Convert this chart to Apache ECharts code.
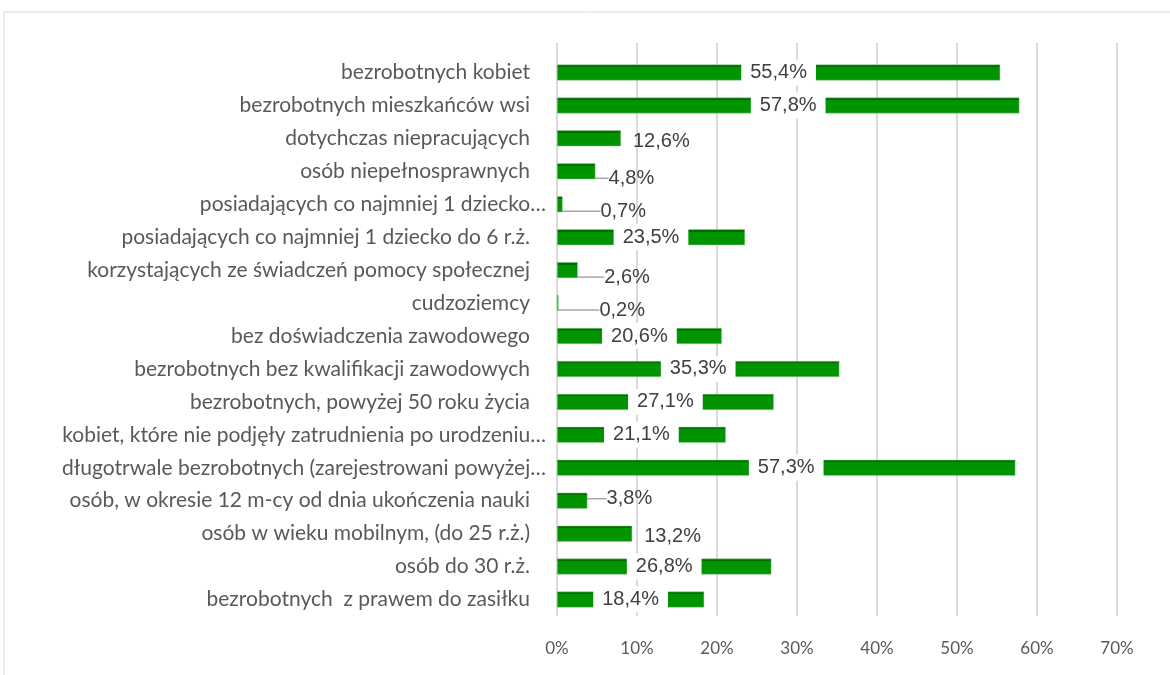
<!DOCTYPE html>
<html>
<head>
<meta charset="utf-8">
<script src="https://cdn.jsdelivr.net/npm/echarts@6/dist/echarts.min.js"></script>
<style>
  html, body { margin: 0; padding: 0; background: #fff; }
  #chart { width: 1170px; height: 675px; }
</style>
</head>
<body>
<div id="chart"></div>
<script>
// Categories, top to bottom
const categories = [
  'bezrobotnych kobiet',
  'bezrobotnych mieszkańców wsi ',
  'dotychczas niepracujących ',
  'osób niepełnosprawnych',
  'posiadających co najmniej 1 dziecko…',
  'posiadających co najmniej 1 dziecko do 6 r.ż.',
  'korzystających ze świadczeń pomocy społecznej',
  'cudzoziemcy',
  'bez doświadczenia zawodowego',
  'bezrobotnych bez kwalifikacji zawodowych ',
  'bezrobotnych, powyżej 50 roku życia',
  'kobiet, które nie podjęły zatrudnienia po urodzeniu…',
  'długotrwale bezrobotnych (zarejestrowani powyżej…',
  'osób, w okresie 12 m-cy od dnia ukończenia nauki',
  'osób w wieku mobilnym, (do 25 r.ż.)',
  'osób do 30 r.ż.',
  'bezrobotnych  z prawem do zasiłku'
];

// Bar lengths as drawn in the picture (percent)
const barLengths = [55.4, 57.8, 8.0, 4.8, 0.7, 23.5, 2.6, 0.2, 20.6, 35.3, 27.1, 21.1, 57.3, 3.8, 9.4, 26.8, 18.4];

// Values printed on the bars (percent)
const printedValues = [55.4, 57.8, 12.6, 4.8, 0.7, 23.5, 2.6, 0.2, 20.6, 35.3, 27.1, 21.1, 57.3, 3.8, 13.2, 26.8, 18.4];

const axisMax = 70;
const axisStep = 10;

const chart = echarts.init(document.getElementById('chart'));

const fmtPct = v => v.toFixed(1).replace('.', ',') + '%';

const barData = barLengths.map(v => {
  const wide = v >= 15;
  return {
    value: v,
    label: wide
      ? { position: 'inside', backgroundColor: '#fff', padding: [3, 9] }
      : { position: 'right', distance: 12 },
    labelLine: { show: v < 5 }
  };
});

const option = {
  animation: false,
  textStyle: { fontFamily: 'Lato' },
  graphic: [{
    type: 'rect',
    shape: { x: 4, y: 12, width: 1300, height: 800 },
    style: { fill: 'none', stroke: '#d9d9d9', lineWidth: 1 },
    silent: true
  }],
  grid: [
    { left: 557, right: 53, top: 56, height: 560 },
    { left: 557, right: 53, top: 43, height: 573 }
  ],
  xAxis: [
    {
      gridIndex: 0, type: 'value', min: 0, max: axisMax, interval: axisStep,
      axisLine: { show: false }, axisTick: { show: false },
      axisLabel: { show: false }, splitLine: { show: false }
    },
    {
      gridIndex: 1, type: 'value', min: 0, max: axisMax, interval: axisStep,
      axisLine: { show: false }, axisTick: { show: false },
      splitLine: { lineStyle: { color: '#d9d9d9', width: 2 } },
      axisLabel: {
        margin: 24, color: '#595959', fontSize: 17, fontFamily: 'Lato',
        formatter: v => v + '%'
      }
    }
  ],
  yAxis: [
    {
      gridIndex: 0, type: 'category', data: categories, inverse: true,
      axisLine: { show: false }, axisTick: { show: false },
      axisLabel: {
        margin: 11,
        formatter: v => v.endsWith('…') ? '{a|' + v + '}' : '{b|' + v.trimEnd() + '}',
        rich: {
          a: { color: '#595959', fontSize: 21, fontFamily: 'Lato' },
          b: { color: '#595959', fontSize: 21, fontFamily: 'Lato', padding: [0, 16, 0, 0] }
        }
      }
    },
    {
      gridIndex: 1, type: 'category', data: categories, show: false
    }
  ],
  series: [{
    type: 'bar',
    xAxisIndex: 0, yAxisIndex: 0,
    data: barData,
    barWidth: 16,
    itemStyle: {
      color: {
        type: 'linear', x: 0, y: 0, x2: 0, y2: 1,
        colorStops: [
          { offset: 0, color: '#006f00' },
          { offset: 0.15, color: '#006f00' },
          { offset: 0.16, color: '#009400' },
          { offset: 1, color: '#009400' }
        ]
      },
      borderColor: '#9bd09b',
      borderWidth: 0.5
    },
    label: {
      show: true,
      color: '#404040',
      fontSize: 20,
      fontFamily: 'Liberation Sans',
      formatter: p => fmtPct(printedValues[p.dataIndex])
    },
    labelLine: { lineStyle: { color: '#a6a6a6', width: 1.5 } },
    labelLayout: p => {
      const v = barLengths[p.dataIndex];
      if (v < 5) return { dx: Math.max(0, (5 - v) * 6), dy: v > 3.5 && v < 4.5 ? -2 : 7 };
      if (v < 15) return { dy: 3 };
      return {};
    }
  }]
};

chart.setOption(option);

window.addEventListener('resize', function () {
  chart.resize();
});
</script>
</body>
</html>
